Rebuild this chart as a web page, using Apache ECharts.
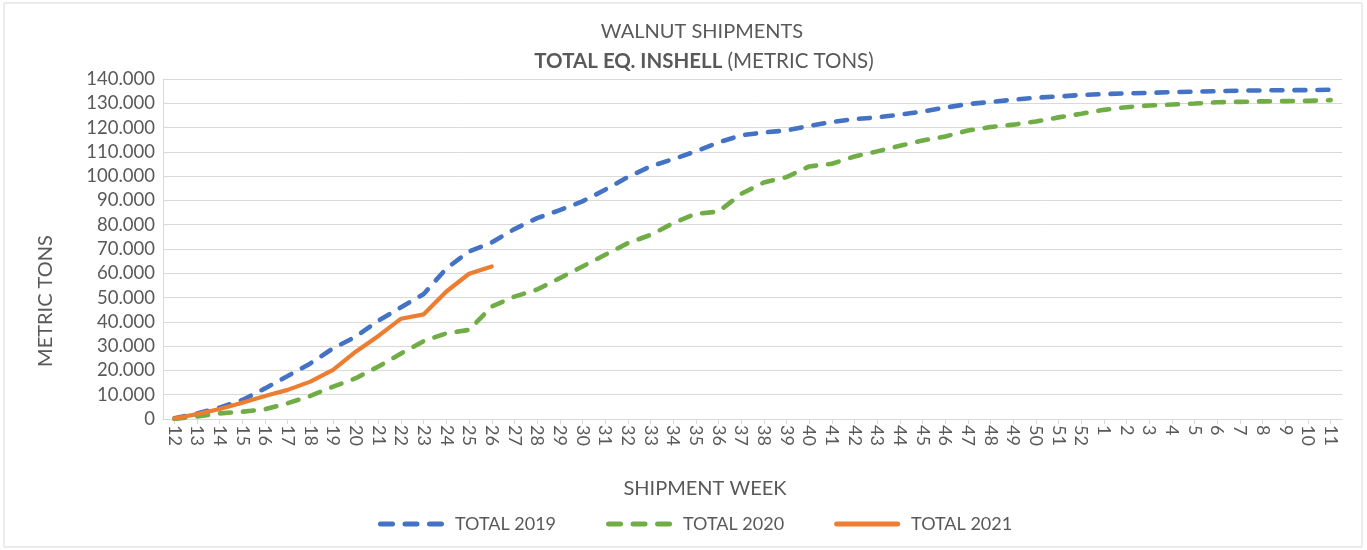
<!DOCTYPE html>
<html>
<head>
<meta charset="utf-8">
<script src="https://cdn.jsdelivr.net/npm/echarts@6/dist/echarts.min.js"></script>
<style>html,body{margin:0;padding:0;background:#fff;}#c{width:1367px;height:550px;}</style>
</head>
<body>
<div id="c"></div>
<script>
var weeks = ['12','13','14','15','16','17','18','19','20','21','22','23','24','25','26','27','28','29','30','31','32','33','34','35','36','37','38','39','40','41','42','43','44','45','46','47','48','49','50','51','52','1','2','3','4','5','6','7','8','9','10','11'];
var total2019 = [300,2300,4700,7800,12600,17700,22900,29100,33900,40500,46000,51500,62000,69000,72700,78200,82700,86000,89600,94400,99600,104000,107000,110200,113900,116800,118000,118800,120700,122300,123500,124200,125300,126600,128200,129700,130500,131500,132300,132800,133400,133800,134100,134300,134600,134800,135000,135200,135300,135400,135400,135600];
var total2020 = [0,1000,2300,3000,4000,6500,9500,13300,16800,21600,27000,32100,35300,36700,46300,50400,53300,58000,62800,67600,72400,75800,80600,84500,85400,92700,97400,99600,104000,105100,108100,110200,112500,114700,116300,118800,120200,121200,122500,124200,125700,127300,128400,129100,129500,129900,130400,130600,130800,130900,131000,131300];
var total2021 = [200,2000,4100,6700,9500,12000,15400,20200,27700,34200,41300,43100,52500,59800,62800];
var seriesNames = ['TOTAL 2019','TOTAL 2020','TOTAL 2021'];
var FONT = 'Lato';
var TXT = '#595959';
var DASH_ICON = 'path://M2.5,0h12a2.5,2.5 0 0 1 0,5h-12a2.5,2.5 0 0 1 0,-5z M27,0h12a2.5,2.5 0 0 1 0,5h-12a2.5,2.5 0 0 1 0,-5z M51.5,0h12a2.5,2.5 0 0 1 0,5h-12a2.5,2.5 0 0 1 0,-5z';
var SOLID_ICON = 'path://M2.5,0h61a2.5,2.5 0 0 1 0,5h-61a2.5,2.5 0 0 1 0,-5z';
var chart = echarts.init(document.getElementById('c'), null, {renderer:'canvas'});
chart.setOption({
  animation:false,
  backgroundColor:'#fff',
  textStyle:{fontFamily:FONT},
  grid:{left:163,right:25,top:79,bottom:131,containLabel:false},
  legend:{
    data:[{name:seriesNames[0],icon:DASH_ICON},{name:seriesNames[1],icon:DASH_ICON},{name:seriesNames[2],icon:SOLID_ICON}],
    top:510, left:373, itemWidth:66, itemHeight:5, itemGap:50,
    textStyle:{color:TXT,fontSize:18,fontFamily:FONT,padding:[0,0,0,6]}
  },
  graphic:[
    {type:'rect',shape:{x:4,y:3,width:1358,height:544},style:{fill:'none',stroke:'#d9d9d9',lineWidth:1},silent:true},
    {type:'text',x:702,y:32,style:{text:'WALNUT SHIPMENTS',fill:TXT,font:'20px '+FONT,textAlign:'center',textVerticalAlign:'middle'}},
    {type:'text',x:704,y:61,style:{text:'{b|TOTAL EQ. INSHELL} (METRIC TONS)',fill:TXT,font:'20.5px '+FONT,textAlign:'center',textVerticalAlign:'middle',rich:{b:{fontWeight:'bold',fill:TXT,fontSize:20.5,fontFamily:FONT}}}},
    {type:'text',x:46,y:301,rotation:Math.PI/2,style:{text:'METRIC TONS',fill:TXT,font:'20px '+FONT,textAlign:'center',textVerticalAlign:'middle'}},
    {type:'text',x:705,y:489,style:{text:'SHIPMENT WEEK',fill:TXT,font:'20px '+FONT,textAlign:'center',textVerticalAlign:'middle'}}
  ],
  xAxis:{
    type:'category', data:weeks, boundaryGap:true,
    axisLine:{lineStyle:{color:'#d9d9d9',width:1}},
    axisTick:{show:true,alignWithLabel:true,length:5,lineStyle:{color:'#d9d9d9'}},
    axisLabel:{rotate:-90,interval:0,color:TXT,fontSize:18,fontFamily:FONT,margin:6}
  },
  yAxis:{
    type:'value', min:0, max:140000, interval:10000,
    axisLine:{show:true,lineStyle:{color:'#d9d9d9',width:1}},
    axisTick:{show:false},
    splitLine:{lineStyle:{color:'#d9d9d9',width:1}},
    axisLabel:{color:TXT,fontSize:18.5,fontFamily:FONT,margin:8,
      formatter:function(v){return v===0?'0':(v/1000)+'.000';}}
  },
  series:[
    {name:seriesNames[0],type:'line',data:total2019,symbol:'none',
      lineStyle:{color:'#4472C4',width:4.6,type:[11,12],cap:'round'},itemStyle:{color:'#4472C4'}},
    {name:seriesNames[1],type:'line',data:total2020,symbol:'none',
      lineStyle:{color:'#70AD47',width:4.6,type:[11,12],cap:'round'},itemStyle:{color:'#70AD47'}},
    {name:seriesNames[2],type:'line',data:total2021,symbol:'none',
      lineStyle:{color:'#ED7D31',width:4.2,cap:'round',join:'round'},itemStyle:{color:'#ED7D31'}}
  ]
});
</script>
</body>
</html>
